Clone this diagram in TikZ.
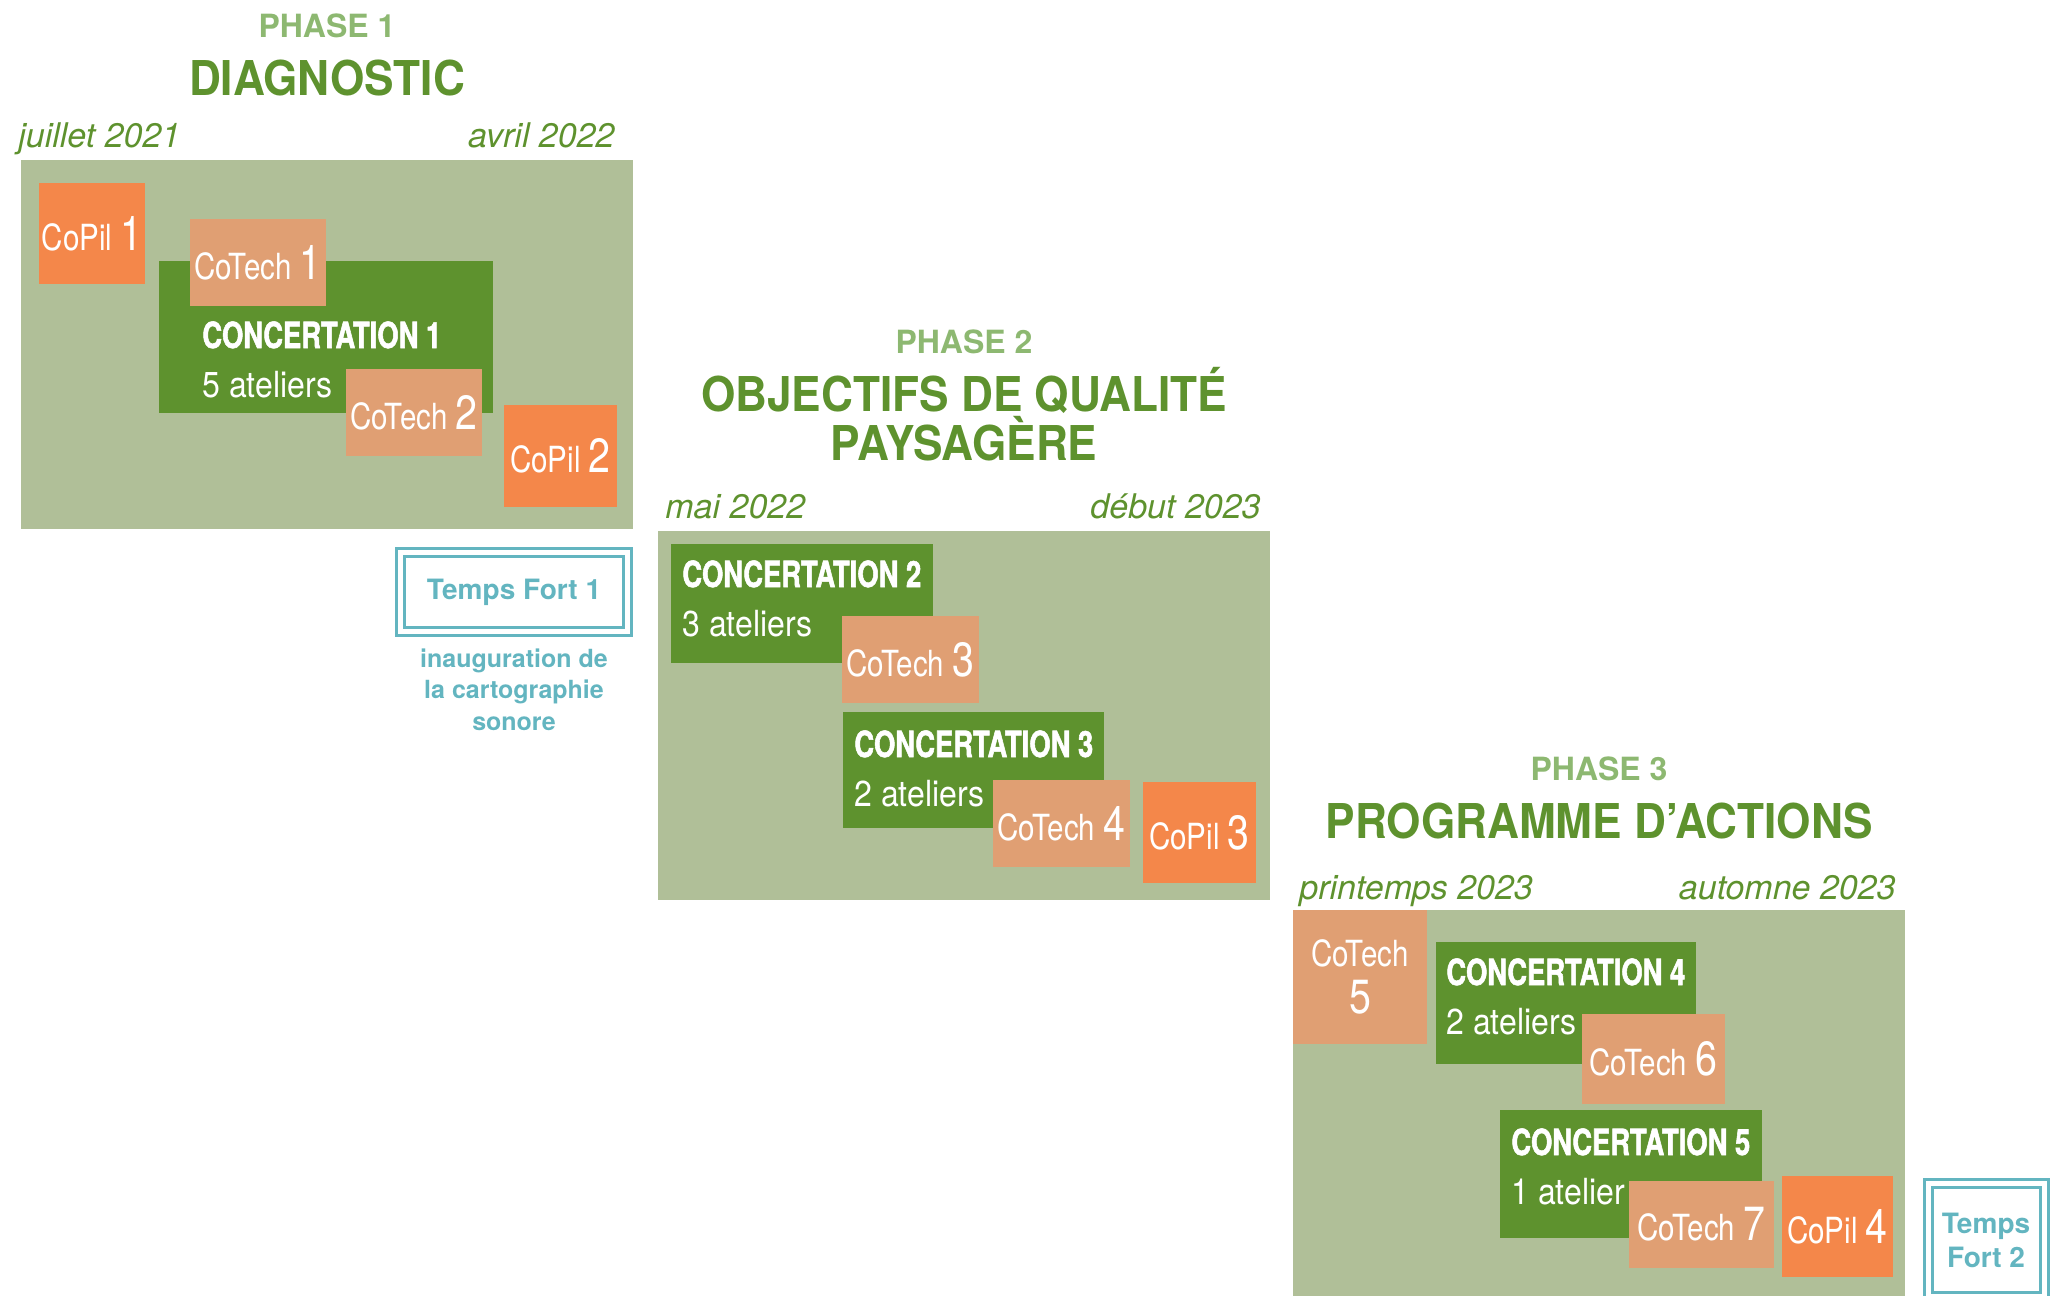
\documentclass[tikz,border=0pt]{standalone}
\usepackage{fontspec}
\setmainfont{TeX Gyre Heros}
\newfontfamily\condfont[FakeStretch=0.76,FakeBold=1.5]{TeX Gyre Heros}
\newfontfamily\thinfont[FakeStretch=0.82]{TeX Gyre Heros}
\newfontfamily\subfont[FakeStretch=0.89]{TeX Gyre Heros}
\newfontfamily\titrefont[FakeStretch=0.92]{TeX Gyre Heros}
\usetikzlibrary{positioning}

\definecolor{fond}{HTML}{B0BF98}
\definecolor{vert}{HTML}{5E922E}
\definecolor{vertclair}{HTML}{8DB871}
\definecolor{saumon}{HTML}{E09F73}
\definecolor{orangecp}{HTML}{F4874A}
\definecolor{turquoise}{HTML}{63B5C0}

\newcommand{\gros}[1]{{\fontsize{24}{24}\selectfont #1}}

\tikzset{
  wh/.style 2 args={minimum width=#1*0.5pt, minimum height=#2*0.5pt},
  blk/.style={inner sep=0pt, outer sep=0pt, anchor=north west},
  fondbox/.style={blk, fill=fond},
  concbox/.style={blk, fill=vert},
  cotech/.style={blk, fill=saumon, text=white, font=\thinfont\fontsize{18}{20}\selectfont},
  copil/.style={blk, fill=orangecp, text=white, font=\thinfont\fontsize{18}{20}\selectfont},
  phasenum/.style={anchor=base, inner sep=0pt, text=vertclair, font=\bfseries\fontsize{16}{18}\selectfont},
  phasetitre/.style={anchor=base, inner sep=0pt, text=vert, font=\titrefont\bfseries\fontsize{24}{26}\selectfont},
  datel/.style={anchor=base west, inner sep=0pt, text=vert, font=\itshape\fontsize{17}{19}\selectfont},
  dater/.style={datel, anchor=base east},
  ctitle/.style={anchor=base west, inner sep=0pt, text=white, font=\condfont\bfseries\fontsize{18}{20}\selectfont},
  csub/.style={anchor=base west, inner sep=0pt, text=white, font=\subfont\fontsize{18}{20}\selectfont},
  tempsfort/.style={draw=turquoise, line width=1.5pt, double=white, double distance=2.5pt,
    inner sep=0pt, align=center, text=turquoise, font=\bfseries\fontsize{14}{17}\selectfont},
  tfnote/.style={inner sep=0pt, align=center, text=turquoise, font=\bfseries\fontsize{12.5}{15.8}\selectfont}
}

\begin{document}
\begin{tikzpicture}[x=0.5pt,y=-0.5pt]
\useasboundingbox (0,0) rectangle (2060,1295);

% fonds des phases
\node[fondbox, wh={612}{369}] (fond1) at (21,160) {};
\node[fondbox, wh={612}{369}] (fond2) at (658,531) {};
\node[fondbox, wh={612}{400}] (fond3) at (1293,910) {};

% titres et dates
\node[phasenum] (p1) at (327,38) {PHASE 1};
\node[phasetitre] (t1) at (327,96) {DIAGNOSTIC};
\node[datel] (d1a) at (18,148) {juillet 2021};
\node[dater] (d1b) at (615,148) {avril 2022};

\node[phasenum] (p2) at (964,353) {PHASE 2};
\node[phasetitre] (t2) at (964,411) {OBJECTIFS DE QUALITÉ};
\node[phasetitre] (t2b) at (964,460) {PAYSAGÈRE};
\node[datel] (d2a) at (665,518) {mai 2022};
\node[dater] (d2b) at (1261,518) {début 2023};

\node[phasenum] (p3) at (1599,780) {PHASE 3};
\node[phasetitre] (t3) at (1599,838) {PROGRAMME D’ACTIONS};
\node[datel] (d3a) at (1299,899) {printemps 2023};
\node[dater] (d3b) at (1896,899) {automne 2023};

% concertations
\foreach \nm/\x/\y/\w/\h in {conc1/159/261/334/152, conc2/671/544/262/119, conc3/843/712/261/116,
    conc4/1436/942/260/122, conc5/1500/1110/262/128}
  \node[concbox, wh={\w}{\h}] (\nm) at (\x,\y) {};

\foreach \nm/\x/\y/\k/\t in {c1/202/348/1/5 ateliers, c2/682/587/2/3 ateliers, c3/854/757/3/2 ateliers,
    c4/1446/985/4/2 ateliers, c5/1511/1155/5/1 atelier} {
  \node[ctitle] (\nm t) at (\x,\y) {CONCERTATION \k};
  \node[csub] (\nm s) at ([yshift=-24.5pt]\nm t.base west) {\t};
}

% CoTech
\foreach \nm/\x/\y/\w/\h/\k in {ct1/190/219/136/87/1, ct2/346/369/136/87/2, ct3/842/616/137/87/3,
    ct4/993/780/137/87/4, ct6/1582/1014/143/90/6, ct7/1629/1181/145/87/7}
  \node[cotech, wh={\w}{\h}] (\nm) at (\x,\y) {CoTech \gros{\k}};
\node[cotech, wh={134}{134}, align=center] (ct5) at (1293,910) {CoTech\\[3.5pt]\gros{5}};

% CoPil
\foreach \nm/\x/\y/\w/\h/\k in {cp1/39/183/106/101/1, cp2/504/405/113/102/2,
    cp3/1143/782/113/101/3, cp4/1782/1176/111/101/4}
  \node[copil, wh={\w}{\h}] (\nm) at (\x,\y) {CoPil \gros{\k}};

% temps forts
\node[tempsfort, minimum width=113.5pt, minimum height=39.5pt] (tf1) at (514,592) {Temps Fort 1};
\node[tfnote, below=7.5pt of tf1] (tf1n) {inauguration de\\la cartographie\\sonore};
\node[tempsfort, minimum width=58pt, minimum height=56.5pt] (tf2) at (1986,1240) {Temps\\Fort 2};
\end{tikzpicture}
\end{document}
